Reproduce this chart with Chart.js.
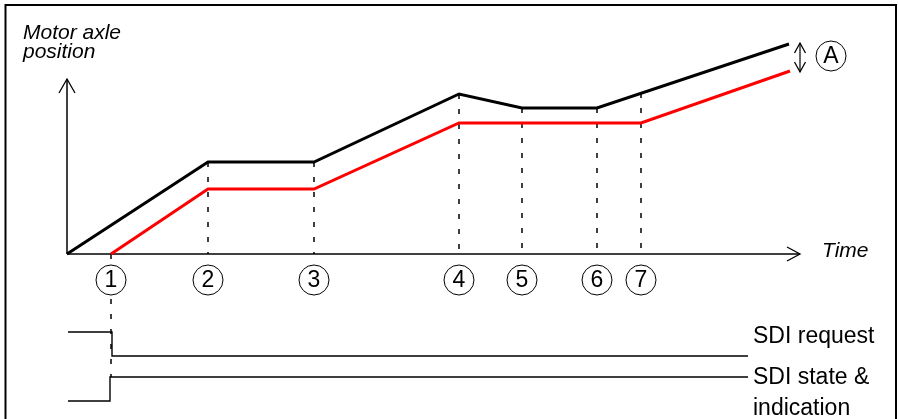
<!DOCTYPE html>
<html>
<head>
<meta charset="utf-8">
<script src="https://cdn.jsdelivr.net/npm/chart.js@4"></script>
<style>
  html, body { margin: 0; padding: 0; background: #fff; }
  #wrap { width: 899px; height: 419px; }
</style>
</head>
<body>
<div id="wrap"><canvas id="chart" width="899" height="419"></canvas></div>
<script>
// time / position units (axis origin = 0,0)
const eventLabels = ["1", "2", "3", "4", "5", "6", "7"]
const eventTimes = [4.4, 14.1, 24.7, 39.2, 45.5, 53.0, 57.4]
const dashTop = [0, 9.2, 9.2, 16.0, 14.6, 14.6, 16.1]
const dashBottom = [-12.3, 0, 0, 0, 0, 0, 0]
const markerLevel = -2.6

const motorTime = [0, 14.1, 24.7, 39.2, 45.5, 53.0, 72.2]
const motorPos = [0, 9.2, 9.2, 16.0, 14.6, 14.6, 21.0]

const limitTime = [4.4, 14.1, 24.7, 39.2, 57.4, 72.3]
const limitPos = [0, 6.5, 6.5, 13.1, 13.1, 18.3]

const requestTime = [0.1, 4.5, 4.5, 68.1]
const requestLevel = [-7.8, -7.8, -10.2, -10.2]
const stateTime = [0.1, 4.3, 4.3, 68.1]
const stateLevel = [-14.7, -14.7, -12.3, -12.3]

const axisEndTime = 73.3
const axisEndPos = 17.5
const gapTime = 73.3
const gapTop = 21.1
const gapBottom = 18.2
const gapMarker = { t: 76.4, p: 19.8, label: "A" }

const pts = (xs, ys) => xs.map((x, i) => ({ x, y: ys[i] }))

const datasets = []

eventTimes.forEach((t, i) => {
  datasets.push({
    data: [{ x: t, y: dashTop[i] }, { x: t, y: dashBottom[i] }],
    showLine: true,
    borderColor: "#000",
    borderWidth: 1.5,
    borderDash: [5, 10],
    pointRadius: 0,
    order: 5
  })
})

datasets.push({
  data: [{ x: 0, y: 0 }, { x: axisEndTime, y: 0 }],
  showLine: true, borderColor: "#000", borderWidth: 1.5, pointRadius: 0, order: 4
})
datasets.push({
  data: [{ x: 0, y: 0 }, { x: 0, y: axisEndPos }],
  showLine: true, borderColor: "#000", borderWidth: 1.5, pointRadius: 0, order: 4
})
datasets.push({
  data: [{ x: gapTime, y: gapTop }, { x: gapTime, y: gapBottom }],
  showLine: true, borderColor: "#000", borderWidth: 1.2, pointRadius: 0, order: 4
})

datasets.push({
  data: pts(requestTime, requestLevel),
  showLine: true, borderColor: "#000", borderWidth: 1.4, pointRadius: 0, order: 3
})
datasets.push({
  data: pts(stateTime, stateLevel),
  showLine: true, borderColor: "#000", borderWidth: 1.4, pointRadius: 0, order: 3
})

datasets.push({
  data: pts(limitTime, limitPos),
  showLine: true, borderColor: "#ff0000", borderWidth: 3, pointRadius: 0, order: 2
})
datasets.push({
  data: pts(motorTime, motorPos),
  showLine: true, borderColor: "#000", borderWidth: 3, pointRadius: 0, order: 2
})

// numbered circles
datasets.push({
  data: eventTimes.map(t => ({ x: t, y: markerLevel })).concat([{ x: gapMarker.t, y: gapMarker.p }]),
  showLine: false,
  pointRadius: 15,
  pointBackgroundColor: "#fff",
  pointBorderColor: "#000",
  pointBorderWidth: 1,
  order: 1
})

const decor = {
  id: "decor",
  afterDatasetsDraw(chart) {
    const { ctx, scales: { x, y } } = chart
    ctx.save()
    ctx.strokeStyle = "#000"

    const line = (pairs) => {
      ctx.beginPath()
      ctx.moveTo(pairs[0][0], pairs[0][1])
      for (let i = 1; i < pairs.length; i++) ctx.lineTo(pairs[i][0], pairs[i][1])
      ctx.stroke()
    }

    // frame
    ctx.lineWidth = 2
    line([[5.5, 419], [5.5, 5], [896, 5], [896, 419]])

    // arrow heads
    ctx.lineWidth = 1.3
    const ox = x.getPixelForValue(0)
    const ay = y.getPixelForValue(axisEndPos)
    line([[ox - 8, ay + 14], [ox, ay], [ox + 8, ay + 14]])
    const ax = x.getPixelForValue(axisEndTime)
    const oy = y.getPixelForValue(0)
    line([[ax - 13, oy - 7], [ax, oy], [ax - 13, oy + 7]])
    const gx = x.getPixelForValue(gapTime)
    const gt = y.getPixelForValue(gapTop)
    const gb = y.getPixelForValue(gapBottom)
    line([[gx - 5.5, gt + 10], [gx, gt], [gx + 5.5, gt + 10]])
    line([[gx - 5.5, gb - 10], [gx, gb], [gx + 5.5, gb - 10]])

    // circle labels
    const meta = chart.getDatasetMeta(chart.data.datasets.length - 1)
    const labels = eventLabels.concat([gapMarker.label])
    ctx.fillStyle = "#000"
    ctx.font = "23px 'Liberation Sans', Arial, sans-serif"
    ctx.textAlign = "center"
    ctx.textBaseline = "middle"
    meta.data.forEach((pt, i) => {
      ctx.fillText(labels[i], pt.x, pt.y + 1)
    })

    // texts
    ctx.textAlign = "left"
    ctx.textBaseline = "alphabetic"
    ctx.font = "italic 21px 'Liberation Sans', Arial, sans-serif"
    ctx.fillText("Motor axle", 23, 39)
    ctx.fillText("position", 23, 58)
    ctx.fillText("Time", 822, 257)

    ctx.font = "23px 'Liberation Sans', Arial, sans-serif"
    ctx.fillText("SDI request", 753, 343)
    ctx.fillText("SDI state &", 753, 384)
    ctx.fillText("indication", 753, 415)
    ctx.restore()
  }
}

new Chart(document.getElementById("chart"), {
  type: "scatter",
  data: { datasets },
  options: {
    responsive: false,
    animation: false,
    devicePixelRatio: 1,
    layout: { padding: 0, autoPadding: false },
    plugins: { legend: { display: false }, tooltip: { enabled: false } },
    elements: { line: { tension: 0, fill: false, borderJoinStyle: "miter" } },
    datasets: { scatter: { clip: false } },
    scales: {
      x: { type: "linear", min: -6.7, max: 83.2, display: false },
      y: { type: "linear", min: -16.5, max: 25.4, display: false }
    }
  },
  plugins: [decor]
})
</script>
</body>
</html>
